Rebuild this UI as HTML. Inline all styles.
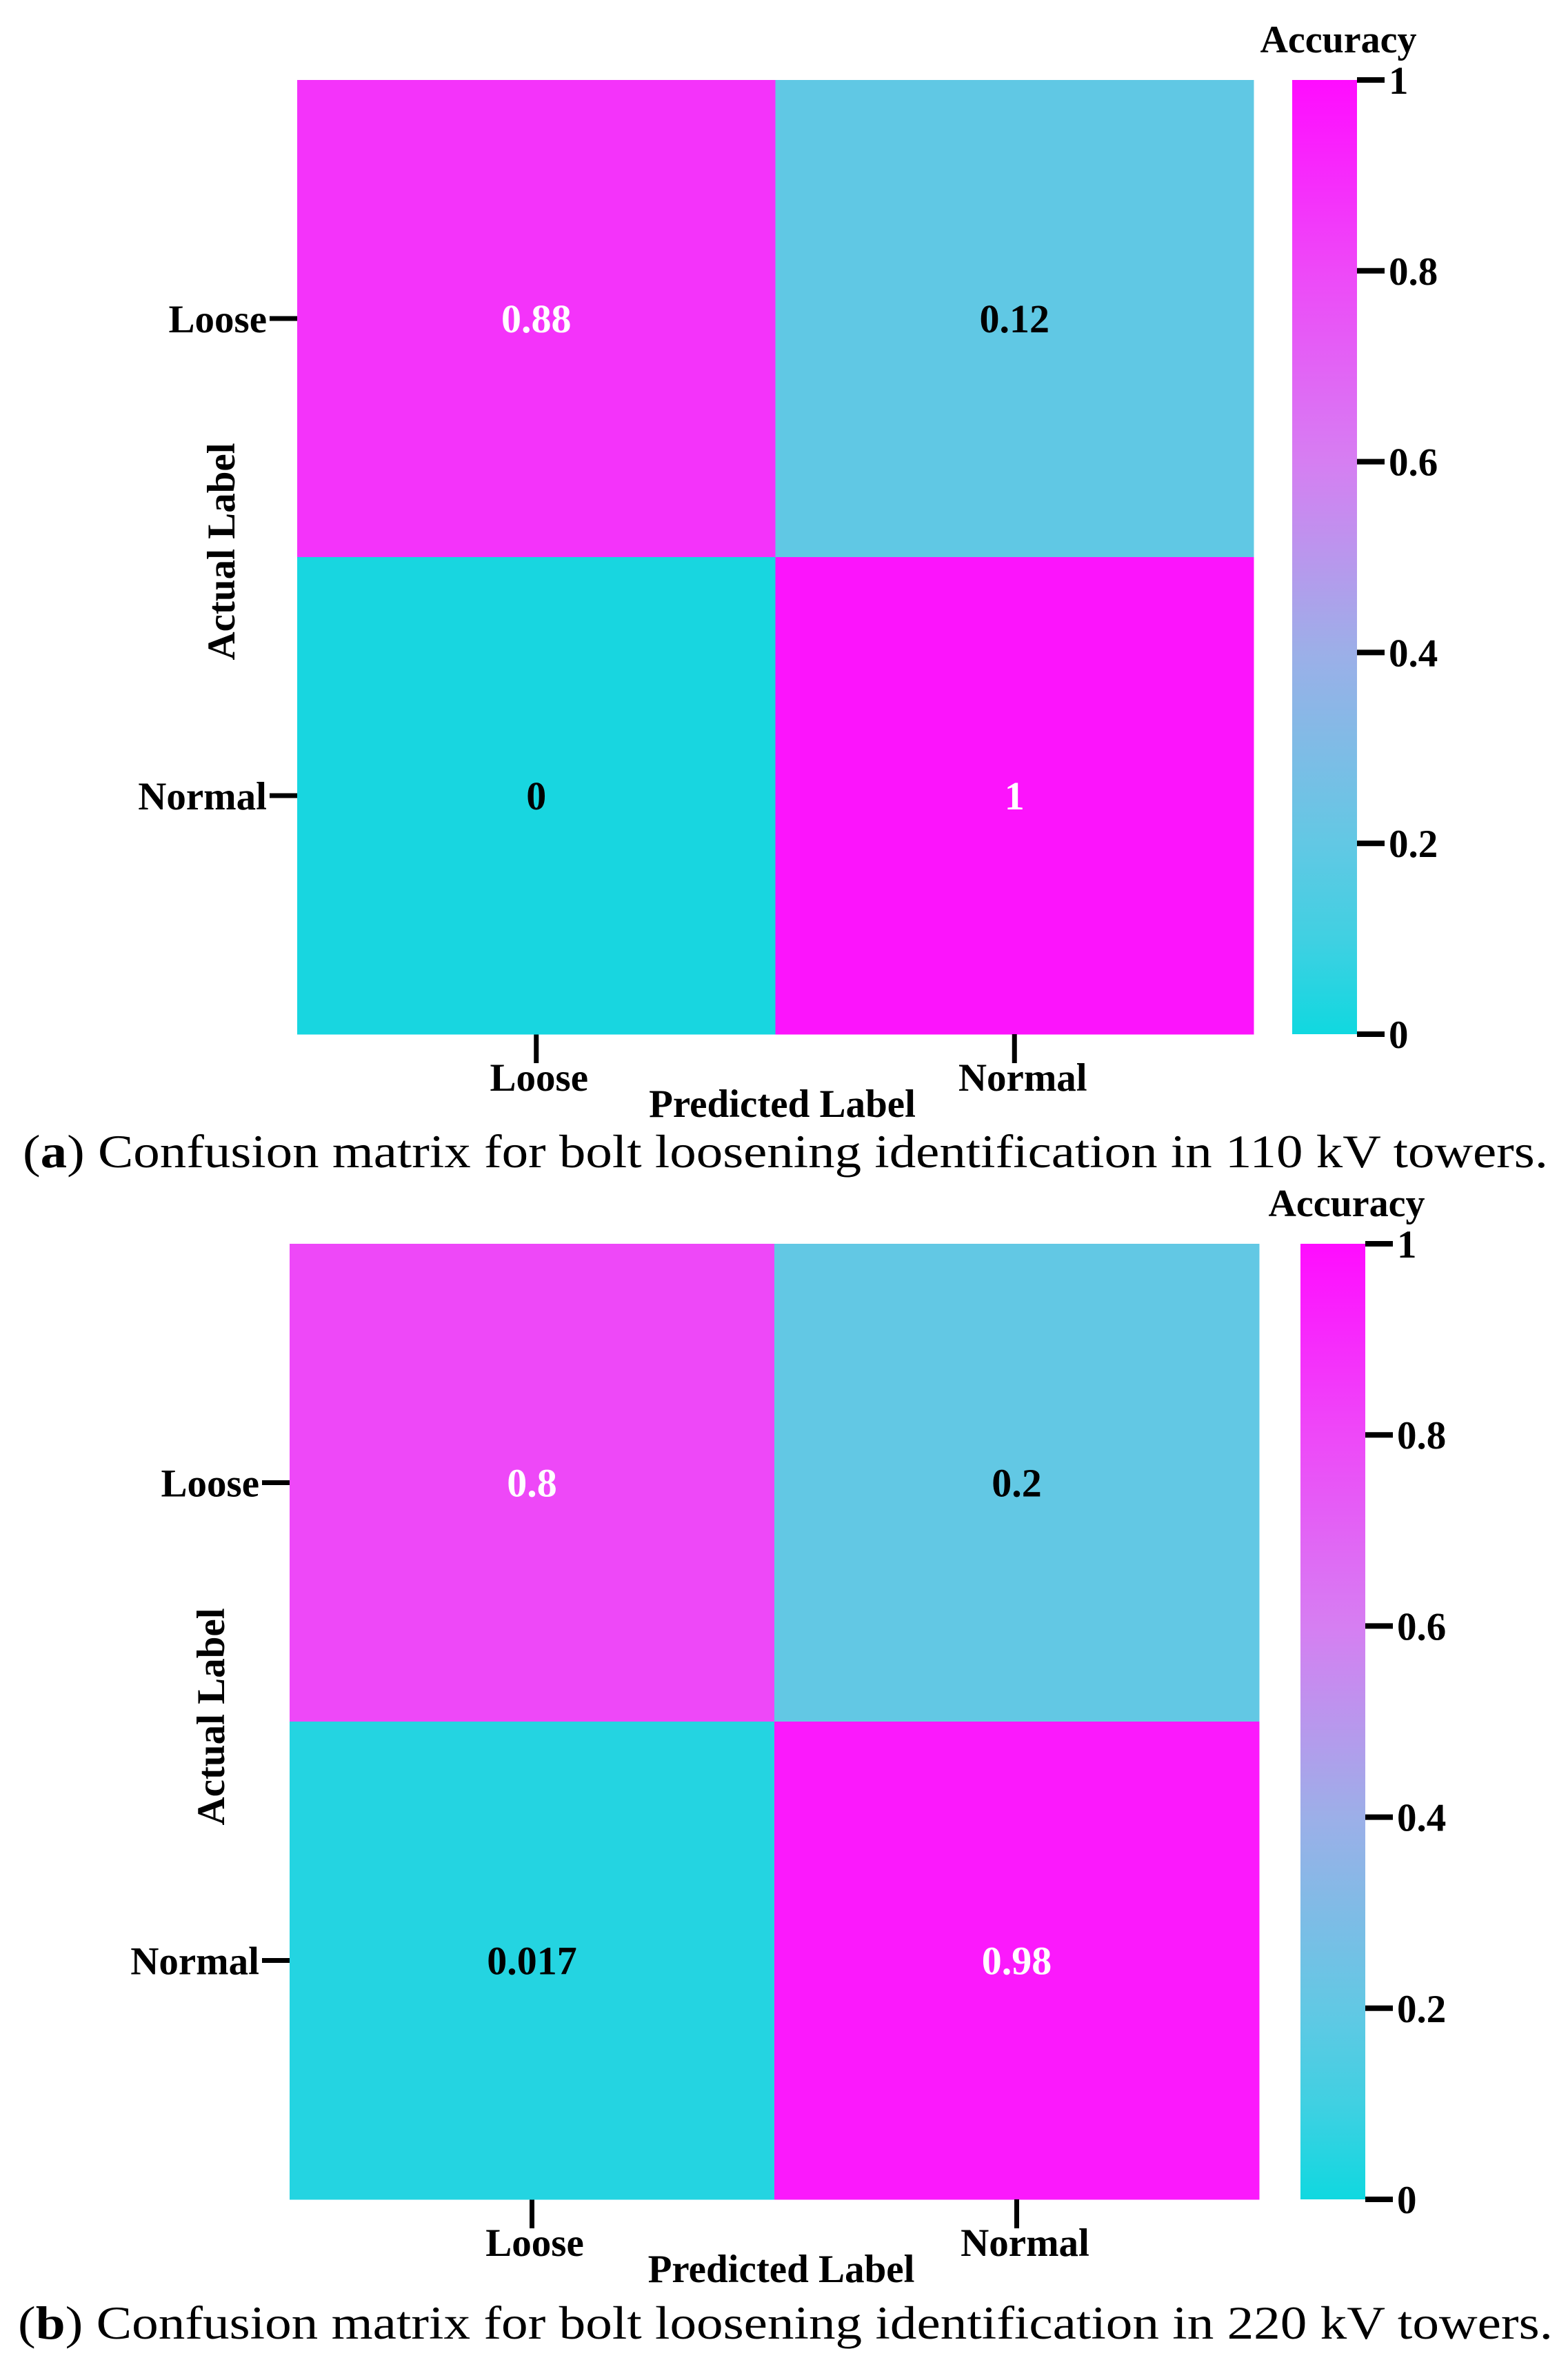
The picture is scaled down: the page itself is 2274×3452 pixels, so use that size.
<!DOCTYPE html>
<html><head><meta charset="utf-8"><style>
html,body{margin:0;padding:0;background:#fff;}
svg{display:block;font-family:"Liberation Serif",serif;}
</style></head><body>
<svg id="fig" width="2274" height="3452" viewBox="0 0 2274 3452" xmlns="http://www.w3.org/2000/svg">
<defs>
<linearGradient id="cbgrad" x1="0" y1="1" x2="0" y2="0">
<stop offset="0" stop-color="#10d8e0"/>
<stop offset="0.1" stop-color="#40d0e2"/>
<stop offset="0.2" stop-color="#62c8e4"/>
<stop offset="0.4" stop-color="#9cafe8"/>
<stop offset="0.6" stop-color="#d67ef2"/>
<stop offset="0.8" stop-color="#ee48f8"/>
<stop offset="1" stop-color="#ff0cff"/>
</linearGradient>
</defs>
</svg>
<script>
const categories = ["Loose", "Normal"];
const valuesA = [[0.88, 0.12], [0, 1]];
const valuesB = [[0.8, 0.2], [0.017, 0.98]];
const labelsA = [["0.88", "0.12"], ["0", "1"]];
const labelsB = [["0.8", "0.2"], ["0.017", "0.98"]];
const cbTicks = [0, 0.2, 0.4, 0.6, 0.8, 1];
const cbTickLabels = ["0", "0.2", "0.4", "0.6", "0.8", "1"];
const captionA = "Confusion matrix for bolt loosening identification in 110 kV towers.";
const captionB = "Confusion matrix for bolt loosening identification in 220 kV towers.";

const NS = "http://www.w3.org/2000/svg";
const svg = document.getElementById("fig");
const stops = [[0,[24,214,224]],[0.1,[96,200,228]],[0.2,[98,200,228]],[0.4,[156,175,232]],[0.6,[214,126,242]],[0.8,[238,72,248]],[1,[252,20,252]]];
function cmap(v){
  for(let i=0;i<stops.length-1;i++){
    const a=stops[i],b=stops[i+1];
    if(v<=b[0]){const t=(v-a[0])/(b[0]-a[0]);
      const c=a[1].map((x,k)=>Math.round(x+(b[1][k]-x)*t));
      return "rgb("+c.join(",")+")";}
  }
  return "rgb(252,20,252)";
}
function mk(tag, attrs, parent){
  const e=document.createElementNS(NS,tag);
  for(const k in attrs) e.setAttribute(k, attrs[k]);
  (parent||svg).appendChild(e); return e;
}
function panel(p){
  const g=mk("g",{});
  
  
  const cw=(p.x1-p.x0)/categories.length, ch=(p.y1-p.y0)/categories.length;
  const xs=j=>p.x0+cw*(j+0.5), ys=i=>p.y0+ch*(i+0.5);
  for(let i=0;i<categories.length;i++){
    for(let j=0;j<categories.length;j++){
      const v=p.vals[i][j];
      const r=mk("rect",{x:p.x0+cw*j,y:p.y0+ch*i,width:cw+0.5,height:ch+0.5,fill:cmap(v)},g);
      
      
      const t=mk("text",{x:xs(j),y:ys(i)+20,"text-anchor":"middle","font-size":58,"font-weight":"bold",fill:v>0.5?"#fff":"#000"},g);
      t.textContent=p.labs[i][j];
      
      
    }
    const yt=mk("line",{x1:p.x0-40,x2:p.x0,y1:ys(i),y2:ys(i),stroke:"#000","stroke-width":7},g);
    
    
    const yl=mk("text",{x:p.x0-44,y:ys(i)+20,"text-anchor":"end","font-size":57,"font-weight":"bold"},g);
    yl.textContent=categories[i];
    
    
    const xt=mk("line",{x1:xs(i),x2:xs(i),y1:p.y1,y2:p.y1+42,stroke:"#000","stroke-width":7},g);
    
    
    const xl=mk("text",{x:xs(i)+(i?12:4),y:p.y1+82,"text-anchor":"middle","font-size":57,"font-weight":"bold"},g);
    xl.textContent=categories[i];
    
    
  }
  const xa=mk("text",{x:(p.x0+p.x1)/2+10,y:p.y1+120,"text-anchor":"middle","font-size":57,"font-weight":"bold"},g);
  xa.textContent="Predicted Label";
  
  
  const ya=mk("text",{x:0,y:0,"text-anchor":"middle","font-size":57,"font-weight":"bold",transform:"translate("+p.yax+","+p.yay+") rotate(-90)"},g);
  ya.textContent="Actual Label";
  
  
  const cb=mk("rect",{x:p.cx0,y:p.y0,width:p.cx1-p.cx0,height:p.y1-p.y0,fill:"url(#cbgrad)"},g);
  
  
  const cy=v=>p.y1-(p.y1-p.y0)*v;
  cbTicks.forEach((v,k)=>{
    const l=mk("line",{x1:p.cx1,x2:p.cx1+40,y1:cy(v),y2:cy(v),stroke:"#000","stroke-width":8},g);
    
    
    const t=mk("text",{x:p.cx1+46,y:cy(v)+20,"font-size":57,"font-weight":"bold"},g);
    t.textContent=cbTickLabels[k];
    
    
  });
  const ct=mk("text",{x:(p.cx0+p.cx1)/2+20,y:p.y0-40,"text-anchor":"middle","font-size":56,"font-weight":"bold"},g);
  ct.textContent="Accuracy";
  
  
  const cap=mk("text",{x:p.capx,y:p.capy,"font-size":68,textLength:p.capw,lengthAdjust:"spacingAndGlyphs"},g);
  
  
  const t1=mk("tspan",{},cap); t1.textContent="(";
  const t2=mk("tspan",{"font-weight":"bold"},cap); t2.textContent=p.letter;
  const t3=mk("tspan",{},cap); t3.textContent=") "+p.caption;
}
panel({name:"panel-a",x0:431,x1:1818,y0:116,y1:1500,cx0:1874,cx1:1968,yax:340,yay:800,
  vals:valuesA,labs:labelsA,capx:33,capy:1693,capw:2212,letter:"a",caption:captionA});
panel({name:"panel-b",x0:420,x1:1826,y0:1804,y1:3190,cx0:1886,cx1:1980,yax:325,yay:2490,
  vals:valuesB,labs:labelsB,capx:26,capy:3392,capw:2226,letter:"b",caption:captionB});
</script>
</body></html>
